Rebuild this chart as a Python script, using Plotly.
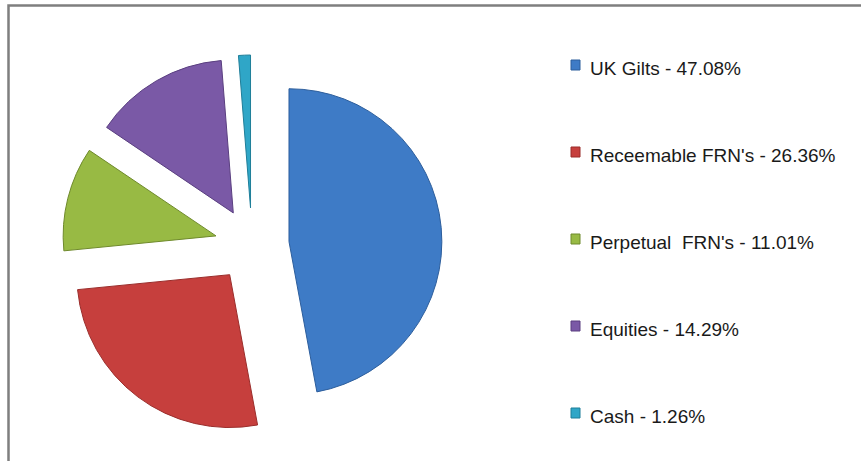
import plotly.graph_objects as go

# ---------------------------------------------------------------------------
# Data
# ---------------------------------------------------------------------------
LABELS = ["UK Gilts", "Receemable FRN's", "Perpetual  FRN's", "Equities", "Cash"]
SHARES = [47.08, 26.36, 11.01, 14.29, 1.26]

COLORS = ["#3E7BC6", "#C63F3D", "#98BA44", "#7A59A6", "#2FA6C7"]
EDGES = ["#2D5E9C", "#9A2D2B", "#6F8A2C", "#5A3F80", "#1F7E99"]

W, H = 861, 461
FONT = "Liberation Sans, Arial, sans-serif"

fig = go.Figure()

# Exploded pie, clockwise from 12 o'clock
fig.add_trace(go.Pie(
    labels=LABELS, values=SHARES,
    sort=False, direction="clockwise", rotation=0,
    pull=[0.243] * len(SHARES),
    marker=dict(colors=COLORS, line=dict(color=EDGES, width=1)),
    textinfo="none",
    hovertemplate="%{label}<br>%{value:.2f}%<extra></extra>",
    showlegend=False,
    domain=dict(x=[62 / W, 442 / W], y=[1 - 435 / H, 1 - 55 / H]),
))

# Legend built by hand: small squares + text, evenly spaced down the right side
y0, step = 65, 87
shapes = []
annotations = []
for i, (lab, val) in enumerate(zip(LABELS, SHARES)):
    cy = y0 + i * step
    shapes.append(dict(
        type="rect", xref="paper", yref="paper",
        x0=571 / W, x1=580 / W, y0=1 - (cy + 5) / H, y1=1 - (cy - 5) / H,
        fillcolor=COLORS[i], line=dict(color=EDGES[i], width=1),
    ))
    annotations.append(dict(
        xref="paper", yref="paper", x=588 / W, y=1 - (cy + 3) / H,
        xanchor="left", yanchor="middle", showarrow=False,
        text=f"{lab} - {val:.2f}%",
        font=dict(family=FONT, size=19, color="#1A1A1A"),
    ))

# Chart frame (only top and left edges visible in the crop)
shapes.append(dict(
    type="rect", xref="paper", yref="paper",
    x0=8.5 / W, x1=1.05, y0=-0.05, y1=1 - 5.5 / H,
    line=dict(color="#7F7F7F", width=2.5), fillcolor="rgba(0,0,0,0)",
))

fig.update_layout(
    width=W, height=H,
    margin=dict(l=0, r=0, t=0, b=0),
    paper_bgcolor="white", plot_bgcolor="white",
    font=dict(family=FONT),
    shapes=shapes, annotations=annotations,
)

# drop the browser's default body margin so the figure sits at the page corner
fig.write_html(
    "out.html",
    config={"displayModeBar": False},
    post_script="document.body.style.margin='0';",
)
